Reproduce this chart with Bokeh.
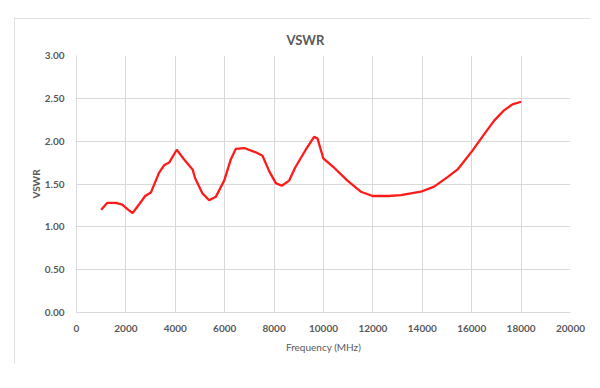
from bokeh.plotting import figure
from bokeh.models import Range1d, FixedTicker, NumeralTickFormatter, Title
from bokeh.embed import file_html
from bokeh.resources import INLINE

# Data (frequency in MHz, VSWR)
freq = [1000, 1250, 1600, 1850, 2050, 2270, 2530, 2780, 3010, 3340, 3550, 3750,
        4060, 4400, 4700, 4800, 5100, 5370, 5640, 5980, 6250, 6450, 6790, 7260,
        7530, 7800, 8070, 8310, 8610, 8850, 9280, 9620, 9760, 9890, 9990, 10430,
        10970, 11510, 11990, 12650, 13130, 13940, 14480, 15020, 15430, 16030,
        16500, 16910, 17310, 17650, 18000]
vswr = [1.20, 1.28, 1.28, 1.26, 1.21, 1.16, 1.26, 1.36, 1.40, 1.63, 1.72, 1.75,
        1.90, 1.77, 1.67, 1.57, 1.39, 1.31, 1.35, 1.54, 1.79, 1.91, 1.92, 1.87,
        1.83, 1.65, 1.51, 1.48, 1.54, 1.69, 1.90, 2.05, 2.03, 1.90, 1.80, 1.69,
        1.54, 1.41, 1.36, 1.36, 1.37, 1.41, 1.47, 1.58, 1.67, 1.89,
        2.08, 2.24, 2.36, 2.43, 2.46]

x_ticks = [0, 2000, 4000, 6000, 8000, 10000, 12000, 14000, 16000, 18000, 20000]
y_ticks = [0.0, 0.5, 1.0, 1.5, 2.0, 2.5, 3.0]

title_text = "VSWR"
x_label = "Frequency (MHz)"
y_label = "VSWR"

FONT = "Lato"
GRAY = "#595959"
GRID = "#d9d9d9"

p = figure(width=577, height=346, output_backend="svg", toolbar_location=None,
           x_range=Range1d(0, 20000), y_range=Range1d(0, 3),
           min_border_left=62, min_border_right=21, min_border_top=37, min_border_bottom=52,
           margin=(18, 0, 0, 14),
           styles={"outline": "1px solid #d9d9d9", "outline-offset": "-1px"})
p.outline_line_color = None
p.background_fill_color = "white"
p.border_fill_color = "white"

t = Title(text=title_text, align="left", offset=210, text_font=FONT, text_font_size="13px",
          text_font_style="bold", text_color=GRAY, standoff=16)
p.add_layout(t, "above")

p.line(freq, vswr, line_color="#ff1a1a", line_width=2.3)

p.xaxis.ticker = FixedTicker(ticks=x_ticks)
p.yaxis.ticker = FixedTicker(ticks=y_ticks)
p.xaxis.formatter = NumeralTickFormatter(format="0")
p.yaxis.formatter = NumeralTickFormatter(format="0.00")

for ax in (p.xaxis[0], p.yaxis[0]):
    ax.axis_line_color = GRID
    ax.major_tick_line_color = None
    ax.minor_tick_line_color = None
    ax.major_label_text_font = FONT
    ax.major_label_text_font_size = "10px"
    ax.major_label_text_color = GRAY
    ax.major_label_text_font_style = "bold"
    ax.axis_label_text_font = FONT
    ax.axis_label_text_color = GRAY
    ax.axis_label_text_font_size = "10px"

p.xaxis.axis_label = x_label
p.xaxis.axis_label_text_font_style = "normal"
p.xaxis.major_label_standoff = 6
p.xaxis.axis_label_standoff = 6
p.yaxis.axis_label = y_label
p.yaxis.axis_label_text_font_style = "bold"
p.yaxis.major_label_standoff = 6
p.yaxis.axis_label_standoff = 0

p.xgrid.grid_line_color = GRID
p.ygrid.grid_line_color = GRID
p.xgrid.grid_line_width = 1
p.ygrid.grid_line_width = 1

open("out.html", "w").write(file_html(p, INLINE))
